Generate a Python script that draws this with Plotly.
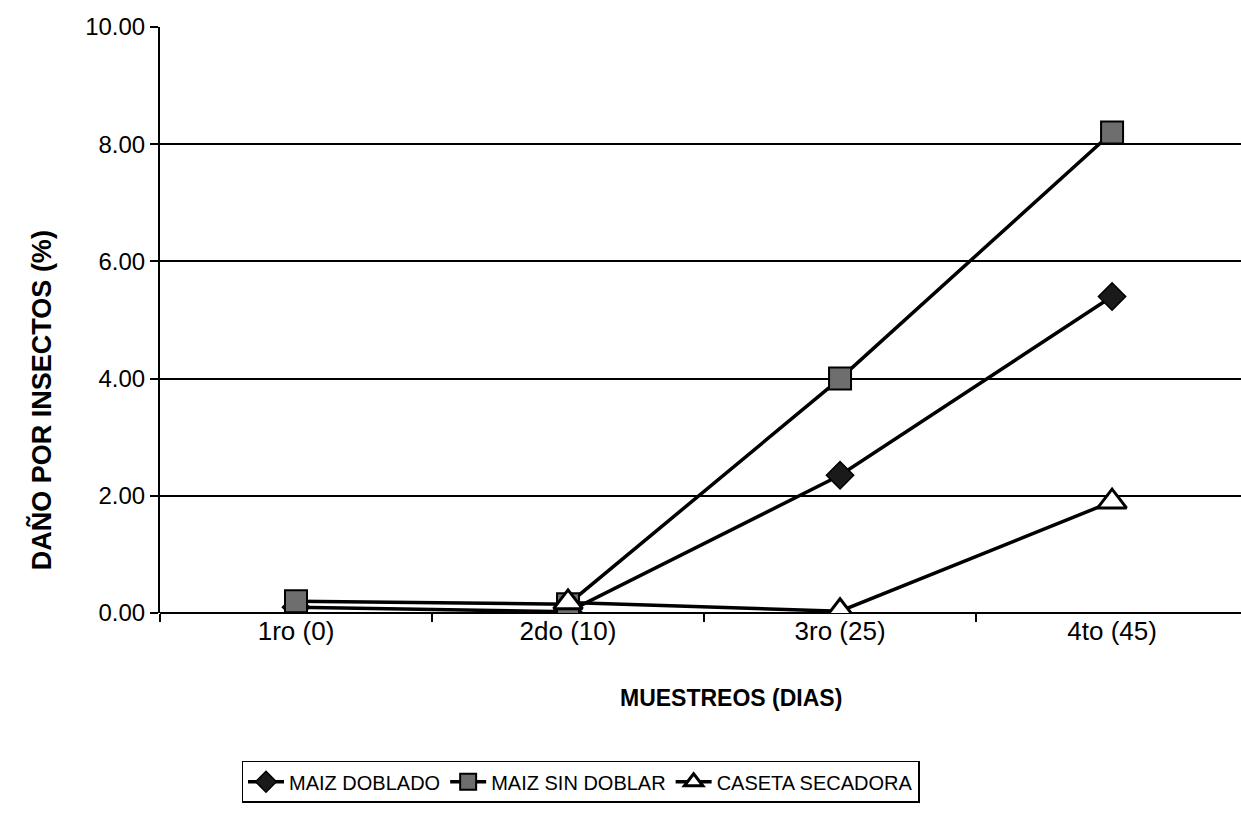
import plotly.graph_objects as go

# Sampling dates (days) and insect damage (%) per storage treatment
muestreos = ["1ro (0)", "2do (10)", "3ro (25)", "4to (45)"]
maiz_doblado = [0.10, 0.02, 2.35, 5.40]
maiz_sin_doblar = [0.20, 0.15, 4.00, 8.20]
caseta_secadora = [None, 0.18, 0.03, 1.90]  # no sample at day 0

y_ticks = [0, 2, 4, 6, 8, 10]

FONT = "Liberation Sans, Arial, sans-serif"

fig = go.Figure()

fig.add_trace(go.Scatter(
    x=muestreos, y=maiz_doblado, name="MAIZ DOBLADO",
    mode="lines+markers",
    line=dict(color="black", width=3.5),
    marker=dict(symbol="diamond", size=21, color="#1a1a1a",
                line=dict(color="black", width=1.5)),
))
fig.add_trace(go.Scatter(
    x=muestreos, y=maiz_sin_doblar, name="MAIZ SIN DOBLAR",
    mode="lines+markers",
    line=dict(color="black", width=3.5),
    marker=dict(symbol="square", size=22, color="#6e6e6e",
                line=dict(color="black", width=2)),
))
fig.add_trace(go.Scatter(
    x=muestreos, y=caseta_secadora, name="CASETA SECADORA",
    mode="lines+markers",
    line=dict(color="black", width=3.5),
    marker=dict(symbol="triangle-up", size=25, color="white",
                line=dict(color="black", width=3)),
))

fig.update_layout(
    width=1241, height=815,
    margin=dict(l=160, r=0, t=27, b=202),
    paper_bgcolor="white", plot_bgcolor="white",
    font=dict(family=FONT, color="black", size=23),
    showlegend=True,
    legend=dict(
        orientation="h", x=0.389, xanchor="center", y=-0.288, yanchor="middle",
        bordercolor="black", borderwidth=1.5, bgcolor="white",
        font=dict(size=20, family=FONT), traceorder="normal",
        itemwidth=36, tracegroupgap=0,
    ),
    annotations=[
        dict(text="<b>MUESTREOS (DIAS)</b>", xref="paper", yref="paper",
             x=0.528, y=-0.145, xanchor="center", yanchor="middle",
             showarrow=False, font=dict(size=23)),
        dict(text="<b>DAÑO POR INSECTOS (%)</b>", xref="paper", yref="paper",
             x=-0.109, y=0.3635, xanchor="center", yanchor="middle",
             textangle=-90, showarrow=False, font=dict(size=27)),
    ],
)

fig.update_xaxes(
    type="category", range=[-0.5, 3.474],
    tickson="boundaries", ticks="outside", ticklen=8, tickcolor="black",
    tickwidth=1.5,
    showline=False, showgrid=False, zeroline=False,
    tickfont=dict(size=26),
)
fig.update_yaxes(
    range=[0, 10], tickvals=y_ticks,
    ticktext=[f"{v:.2f}" for v in y_ticks],
    ticks="outside", ticklen=8, tickcolor="black", tickwidth=1.5,
    showline=True, linecolor="black", linewidth=2,
    showgrid=True, gridcolor="black", gridwidth=1.5,
    zeroline=True, zerolinecolor="black", zerolinewidth=2,
    tickfont=dict(size=24),
)

fig.write_html("out.html")
